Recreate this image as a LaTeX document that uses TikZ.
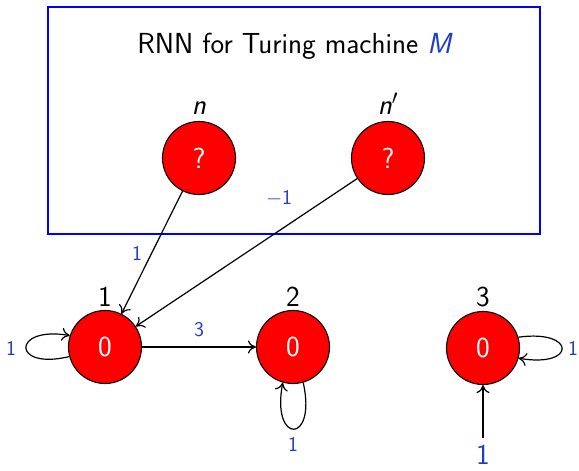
\documentclass[tikz,border=0pt]{standalone}
\renewcommand{\familydefault}{\sfdefault}
\usetikzlibrary{arrows.meta}
\definecolor{lblue}{RGB}{30,60,200}
\newcommand{\sfit}[1]{\textit{#1}}
\begin{document}
\begin{tikzpicture}[x=1pt,y=-1pt,
  neuron/.style={circle,draw=black,fill=red,minimum size=73pt,inner sep=0pt,
    text=white,line width=1.1pt,font=\fontsize{29}{33}\selectfont},
  wlabel/.style={text=lblue,inner sep=0pt,font=\fontsize{21}{24}\selectfont},
  biglabel/.style={inner sep=0pt,anchor=base,font=\fontsize{29}{33}\selectfont},
  conn/.style={-{To[length=8pt,width=13pt]},line width=1.2pt}]
\useasboundingbox (0,0) rectangle (579,471);
\draw[blue,line width=1.2pt] (48,7) rectangle (540,234);
\node[biglabel] (title) at (295,53) {RNN for Turing machine \textcolor{lblue}{\sfit{M}}};
% upper neurons
\node[neuron] (n) at (199,158) {?};
\node[neuron] (np) at (388,158) {?};
\node[biglabel] (nlab) at (199,114) {\sfit{n}};
\node[biglabel] (nplab) at (388,114) {\sfit{n}$'$};
% lower neurons
\node[neuron] (one) at (105,347) {0};
\node[neuron] (two) at (293,347) {0};
\node[neuron] (three) at (483,348) {0};
\node[biglabel] (onelab) at (105,306) {1};
\node[biglabel] (twolab) at (293,306) {2};
\node[biglabel] (threelab) at (483,306) {3};
% connectors
\draw[conn] (n) -- (one);
\draw[conn] (np) -- (one);
\draw[conn] (one) -- (two);
\draw[conn] (one.195) .. controls +(-58,14) and +(-58,-10) .. (one.162);
\draw[conn] (two.286) .. controls +(14,62) and +(-12,62) .. (two.254);
\draw[conn] (three.17) .. controls +(58,-8) and +(58,10) .. (three.344);
\coordinate (in3) at (483,438);
\draw[conn] (in3) -- (three);
% weight labels
\node[wlabel] (w1) at (137,253.5) {1};
\node[wlabel] (w2) at (279,198) {$-$1};
\node[wlabel] (w3) at (199,330) {3};
\node[wlabel] (w4) at (11,348) {1};
\node[wlabel] (w5) at (293,444) {1};
\node[wlabel] (w6) at (573,348) {1};
\node[biglabel,text=lblue] (w7) at (483,464) {1};
\end{tikzpicture}
\end{document}
